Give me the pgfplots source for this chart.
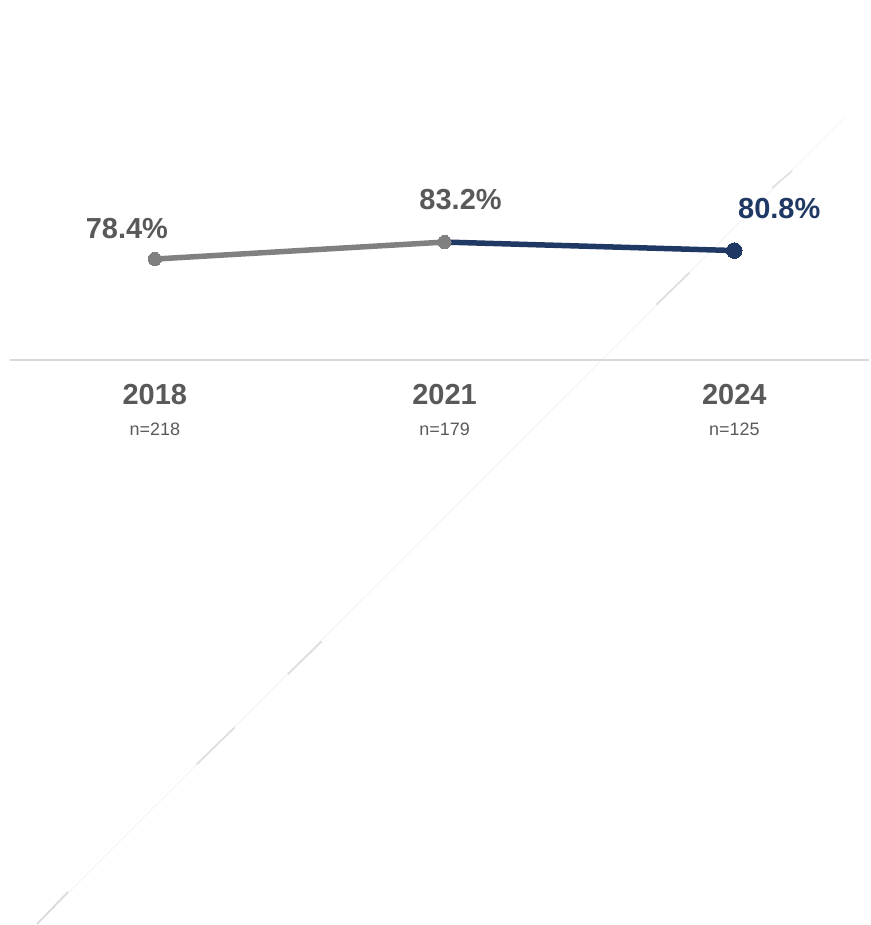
\documentclass[border=0pt]{standalone}
\usepackage{pgfplots}
\pgfplotsset{compat=1.18}
\usepackage{fontspec}
\setmainfont{Liberation Sans}
\definecolor{navy}{HTML}{203864}
\definecolor{midgray}{HTML}{808080}
\definecolor{txtgray}{HTML}{595959}
\definecolor{basegray}{HTML}{D9D9D9}
\begin{document}
\begin{tikzpicture}
\begin{axis}[
  scale only axis,
  width=435pt, height=462.5pt,
  xmin=-0.53448, xmax=2.46552,
  ymin=-109.54, ymax=151.61,
  hide axis,
  clip=false,
]
% invisible frame to keep the full canvas
\path (rel axis cs:0,0) rectangle (rel axis cs:1,1);
% decorative faint diagonal
\addplot[gray!8, line width=0.5pt, forget plot] coordinates {(-0.4069,-109.54) (2.3793,118.3)};
\addplot[gray!28, line width=0.9pt, forget plot] coordinates {(-0.4069,-109.54) (-0.3,-100.5)};
\addplot[gray!25, line width=0.9pt, forget plot] coordinates {(0.1448,-64.37) (0.2759,-53.93)};
\addplot[gray!25, line width=0.9pt, forget plot] coordinates {(0.4586,-38.96) (0.5759,-29.65)};
\addplot[gray!25, line width=0.9pt, forget plot] coordinates {(1.7310,65.5) (1.8448,74.53)};
\addplot[gray!22, line width=0.9pt, forget plot] coordinates {(2.131,98.53) (2.2,103.33)};
% baseline
\addplot[basegray, line width=1pt, forget plot] coordinates {(-0.5,50) (2.46552,50)};
% navy segment
\addplot[navy, line width=2.75pt, line cap=round, mark=*, mark size=3.9pt, mark indices={2},
  mark options={fill=navy, draw=navy, line width=0pt}] coordinates {(1,83.2) (2,80.8)};
% gray segment
\addplot[midgray, line width=2.75pt, line cap=round, mark=*, mark size=3.3pt,
  mark options={fill=midgray, draw=midgray, line width=0pt}] coordinates {(0,78.4) (1,83.2)};
% value labels
\node[font=\fontsize{14.5}{16}\selectfont\bfseries, text=txtgray] at (axis cs:-0.0966,86.95) {78.4\%};
\node[font=\fontsize{14.5}{16}\selectfont\bfseries, text=txtgray] at (axis cs:1.0552,95.14) {83.2\%};
\node[font=\fontsize{14.5}{16}\selectfont\bfseries, text=navy] at (axis cs:2.1552,92.6) {80.8\%};
% category labels
\node[font=\fontsize{14.5}{16}\selectfont\bfseries, text=txtgray] at (axis cs:0,40.09) {2018};
\node[font=\fontsize{14.5}{16}\selectfont\bfseries, text=txtgray] at (axis cs:1,40.09) {2021};
\node[font=\fontsize{14.5}{16}\selectfont\bfseries, text=txtgray] at (axis cs:2,40.09) {2024};
\node[font=\fontsize{9}{10}\selectfont, text=txtgray] at (axis cs:0,30.3) {n=218};
\node[font=\fontsize{9}{10}\selectfont, text=txtgray] at (axis cs:1,30.3) {n=179};
\node[font=\fontsize{9}{10}\selectfont, text=txtgray] at (axis cs:2,30.3) {n=125};
\end{axis}
\end{tikzpicture}
\end{document}
